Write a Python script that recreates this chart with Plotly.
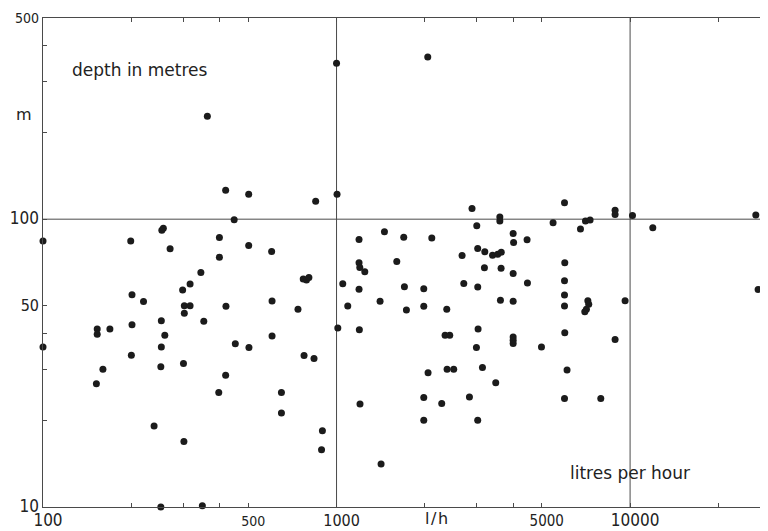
import math
import plotly.graph_objects as go

# Yield (litres per hour) vs depth (metres)
flow_lph = [
    363, 419, 502, 448, 257, 254, 100, 199, 271, 399, 399, 502,
    1000, 2045, 849, 1004, 2894, 3004, 3600, 3600, 601, 1193, 1456, 1694,
    2111, 1193, 1200, 1248, 1604, 2677, 3026, 3199, 3400, 3540, 3640, 3190,
    3635, 5978, 5466, 7047, 7307, 6776, 8890, 8890, 10190, 11950, 26810, 3996,
    4010, 4457, 5991, 345, 317, 299, 201, 220, 303, 317, 303, 420,
    253, 353, 153, 153, 169, 201, 260, 100, 253, 452, 503, 200,
    160, 301, 252, 152, 419, 397, 239, 302, 252, 349, 1050, 1193,
    1703, 1982, 2713, 3027, 3617, 603, 739, 1092, 1407, 1730, 1982, 2374,
    1010, 1196, 603, 2343, 2430, 3035, 2996, 775, 838, 2380, 2507, 2050,
    3141, 3486, 649, 1982, 2282, 2836, 1202, 649, 1982, 3026, 895, 889,
    1418, 770, 790, 805, 3996, 4470, 5978, 5978, 5978, 3996, 7180, 7230,
    7100, 7010, 9616, 3996, 3996, 3996, 4990, 5991, 8890, 6099, 5978, 7947,
    27300,
]
depth_m = [
    228, 126, 122, 99.5, 93, 91.6, 84, 84, 79, 86.4, 73.8, 81,
    348, 366, 115.5, 122, 109, 94.8, 101.8, 98.6, 77.2, 85, 90.4, 86.6,
    86.1, 70.5, 68, 65.7, 71.3, 74.8, 79.1, 77, 75, 75.6, 76.8, 67.8,
    67.5, 114, 97.1, 98.6, 99.4, 92.5, 107.5, 103.8, 103, 93.3, 103.5, 89.2,
    83, 84.8, 70.5, 65.3, 59.5, 56.7, 54.6, 51.8, 50, 50, 47.1, 49.8,
    44.4, 44.2, 41.5, 39.8, 41.5, 43, 39.5, 36, 36, 36.9, 35.8, 33.7,
    30.1, 31.5, 30.7, 26.8, 28.7, 25, 19.1, 16.9, 10, 10.1, 59.6, 57.1,
    58.2, 57.3, 59.8, 58.1, 52.3, 52, 48.6, 49.9, 51.9, 48.4, 49.8, 48.6,
    41.9, 41.3, 39.3, 39.5, 39.5, 41.5, 35.8, 33.6, 32.8, 30.1, 30.1, 29.3,
    30.5, 27, 25, 24, 22.9, 24.1, 22.8, 21.2, 20, 20, 18.4, 15.8,
    14.1, 62, 61.5, 62.7, 64.8, 60, 61.1, 54.5, 49.9, 51.9, 52.1, 50.6,
    48.6, 47.7, 52.1, 39, 38, 37, 36, 40.3, 38.2, 29.9, 23.8, 23.8,
    57,
]

# Axes
X_MIN, X_MAX = 100, 29500
Y_MIN, Y_MAX = 10, 500
x_tick_vals = [100, 500, 1000, 5000, 10000]
x_tick_text = ["100", "500", "1000", "5000", "10000"]
x_tick_sizes = [17, 14, 16, 15, 17]
x_minor_vals = [200, 300, 400, 2000, 3000, 4000, 20000]
y_tick_vals = [10, 50, 100, 500]
y_tick_text = ["10", "50", "100", "500"]
y_tick_sizes = [17, 16, 17, 14]
y_minor_vals = [20, 30, 40, 200, 300, 400]
grid_x = [1000, 10000]
grid_y = [100]

INK = "#222222"
LINE = "#4a4a4a"
TICK_FONT = "DejaVu Sans Condensed"
TEXT_FONT = "DejaVu Sans"

fig = go.Figure()

for gx in grid_x:
    fig.add_trace(go.Scatter(x=[gx, gx], y=[Y_MIN, Y_MAX], mode="lines",
                             line=dict(color=LINE, width=1), hoverinfo="skip",
                             showlegend=False))
for gy in grid_y:
    fig.add_trace(go.Scatter(x=[X_MIN, X_MAX], y=[gy, gy], mode="lines",
                             line=dict(color=LINE, width=1), hoverinfo="skip",
                             showlegend=False))

fig.add_trace(go.Scatter(
    x=flow_lph, y=depth_m, mode="markers",
    marker=dict(size=7, color="#1b1b1b", line=dict(width=0)),
    cliponaxis=False, showlegend=False,
))

def styled(texts, sizes):
    return [f'<span style="font-size:{s}px">{t}</span>' for t, s in zip(texts, sizes)]

common = dict(
    ticks="inside", ticklen=4, tickcolor=LINE, tickwidth=1,
    showline=True, linecolor=LINE, linewidth=1, mirror="ticks",
    showgrid=False, zeroline=False, automargin=False,
    tickfont=dict(family=TICK_FONT, size=15, color=INK),
)

fig.update_xaxes(
    type="log", range=[math.log10(X_MIN), math.log10(X_MAX)],
    tickmode="array", tickvals=x_tick_vals, ticktext=styled(x_tick_text, x_tick_sizes),
    ticklabelshift=5,
    minor=dict(tickmode="array", tickvals=x_minor_vals, ticks="inside", ticklen=4,
               tickcolor=LINE, tickwidth=1, showgrid=False),
    **common,
)
fig.update_yaxes(
    type="log", range=[math.log10(Y_MIN), math.log10(Y_MAX)],
    tickmode="array", tickvals=y_tick_vals, ticktext=styled(y_tick_text, y_tick_sizes),
    minor=dict(tickmode="array", tickvals=y_minor_vals, ticks="inside", ticklen=4,
               tickcolor=LINE, tickwidth=1, showgrid=False),
    **common,
)

# the page adds an 8px body margin, so the figure is sized/offset to fit the window
fig.update_layout(
    width=760, height=523,
    margin=dict(l=35, r=0, t=10, b=24),
    paper_bgcolor="white", plot_bgcolor="white",
    font=dict(family=TEXT_FONT, color=INK),
    annotations=[
        dict(text="depth in metres", xref="paper", yref="paper", x=0.134, y=0.894,
             xanchor="center", yanchor="middle", showarrow=False,
             font=dict(size=17, color=INK)),
        dict(text="m", xref="paper", yref="paper", x=-0.026, y=0.802,
             xanchor="center", yanchor="middle", showarrow=False,
             font=dict(size=16, color=INK)),
        dict(text="litres per hour", xref="paper", yref="paper", x=0.81, y=0.0695,
             xanchor="center", yanchor="middle", showarrow=False,
             font=dict(size=17, color=INK)),
        dict(text="l\u200a/\u200ah", xref="paper", yref="paper", x=0.543, y=-0.0245,
             xanchor="center", yanchor="middle", showarrow=False,
             font=dict(size=16, color=INK)),
    ],
)

fig.write_html("out.html")
